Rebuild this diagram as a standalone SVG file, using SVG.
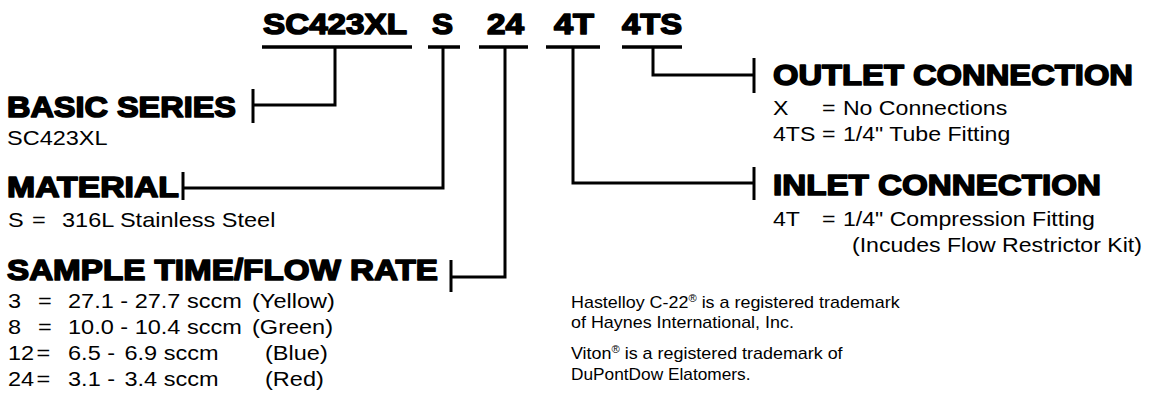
<svg xmlns="http://www.w3.org/2000/svg" width="1158" height="407" viewBox="0 0 1158 407">
<style>
.h{font-family:"Liberation Sans",Arial,sans-serif;font-weight:bold;font-size:30px;fill:#000;stroke:#000;stroke-width:1.6;stroke-linejoin:round}
.t{font-family:"Liberation Sans",Arial,sans-serif;font-size:21px;fill:#000}
.n{font-family:"Liberation Sans",Arial,sans-serif;font-size:16px;fill:#000}
.sup{font-size:10px}
.ln{fill:none;stroke:#000;stroke-width:3;stroke-linecap:butt;stroke-linejoin:miter}
.ul{fill:none;stroke:#000;stroke-width:3.5}
</style>
<rect width="1158" height="407" fill="#fff"/>
<g id="code">
<text class="h" x="263" y="34" textLength="144" lengthAdjust="spacingAndGlyphs">SC423XL</text>
<text class="h" x="432" y="34" textLength="21" lengthAdjust="spacingAndGlyphs">S</text>
<text class="h" x="487" y="34" textLength="37" lengthAdjust="spacingAndGlyphs">24</text>
<text class="h" x="554" y="34" textLength="40" lengthAdjust="spacingAndGlyphs">4T</text>
<text class="h" x="622" y="34" textLength="60" lengthAdjust="spacingAndGlyphs">4TS</text>
<line class="ul" x1="262" y1="47" x2="412" y2="47"/>
<line class="ul" x1="428" y1="47" x2="460" y2="47"/>
<line class="ul" x1="479" y1="47" x2="528" y2="47"/>
<line class="ul" x1="546" y1="47" x2="600" y2="47"/>
<line class="ul" x1="622" y1="47" x2="682" y2="47"/>
</g>
<g id="connectors">
<polyline class="ln" points="335,47 335,105 253,105"/>
<line class="ln" x1="253" y1="89" x2="253" y2="123"/>
<polyline class="ln" points="443,47 443,188 183,188"/>
<line class="ln" x1="183" y1="172" x2="183" y2="200"/>
<polyline class="ln" points="505,47 505,277 451,277"/>
<line class="ln" x1="451" y1="260" x2="451" y2="292"/>
<polyline class="ln" points="573,47 573,183 754,183"/>
<line class="ln" x1="754" y1="167" x2="754" y2="200"/>
<polyline class="ln" points="653,47 653,75 754,75"/>
<line class="ln" x1="754" y1="58" x2="754" y2="93"/>
</g>
<g id="basic-series">
<text class="h" x="7" y="117" textLength="229" lengthAdjust="spacingAndGlyphs">BASIC SERIES</text>
<text class="t" transform="translate(7,145) scale(1.12,1)">SC423XL</text>
</g>
<g id="material">
<text class="h" x="7" y="197" textLength="172" lengthAdjust="spacingAndGlyphs">MATERIAL</text>
<text class="t" transform="translate(8,227) scale(1.12,1)"><tspan x="0">S</tspan><tspan x="21.4">=</tspan><tspan x="48.2">316L Stainless Steel</tspan></text>
</g>
<g id="sample-time">
<text class="h" x="7" y="280" textLength="431" lengthAdjust="spacingAndGlyphs">SAMPLE TIME/FLOW RATE</text>
<text class="t" transform="translate(8,308) scale(1.12,1)"><tspan x="0">3</tspan><tspan x="26.8">=</tspan><tspan x="53.6">27.1 - 27.7 sccm</tspan><tspan x="217.9">(Yellow)</tspan></text>
<text class="t" transform="translate(8,334) scale(1.12,1)"><tspan x="0">8</tspan><tspan x="26.8">=</tspan><tspan x="53.6">10.0 - 10.4 sccm</tspan><tspan x="217.9">(Green)</tspan></text>
<text class="t" transform="translate(8,360) scale(1.12,1)"><tspan x="0">12</tspan><tspan x="25.5">=</tspan><tspan x="53.6">6.5 -</tspan><tspan x="104">6.9 sccm</tspan><tspan x="229.5">(Blue)</tspan></text>
<text class="t" transform="translate(8,386) scale(1.12,1)"><tspan x="0">24</tspan><tspan x="25.5">=</tspan><tspan x="53.6">3.1 -</tspan><tspan x="104">3.4 sccm</tspan><tspan x="229.5">(Red)</tspan></text>
</g>
<g id="outlet-connection">
<text class="h" x="773" y="85" textLength="360" lengthAdjust="spacingAndGlyphs">OUTLET CONNECTION</text>
<text class="t" transform="translate(773,115) scale(1.1,1)"><tspan x="0">X</tspan><tspan x="44.5">=</tspan><tspan x="63.6">No Connections</tspan></text>
<text class="t" transform="translate(773,141) scale(1.1,1)"><tspan x="0">4TS</tspan><tspan x="44.5">=</tspan><tspan x="63.6">1/4" Tube Fitting</tspan></text>
</g>
<g id="inlet-connection">
<text class="h" x="773" y="195" textLength="328" lengthAdjust="spacingAndGlyphs">INLET CONNECTION</text>
<text class="t" transform="translate(773,226) scale(1.1,1)"><tspan x="0">4T</tspan><tspan x="44.5">=</tspan><tspan x="63.6">1/4" Compression Fitting</tspan></text>
<text class="t" transform="translate(773,252) scale(1.1,1)"><tspan x="71.8">(Incudes Flow Restrictor Kit)</tspan></text>
</g>
<g id="trademarks">
<text class="n" transform="translate(571,308) scale(1.12,1)">Hastelloy C-22<tspan class="sup" dy="-6">®</tspan><tspan dy="6"> is a registered trademark</tspan></text>
<text class="n" transform="translate(571,328) scale(1.12,1)">of Haynes International, Inc.</text>
<text class="n" transform="translate(571,359) scale(1.12,1)">Viton<tspan class="sup" dy="-6">®</tspan><tspan dy="6"> is a registered trademark of</tspan></text>
<text class="n" transform="translate(571,380) scale(1.08,1)">DuPontDow Elatomers.</text>
</g>
</svg>
